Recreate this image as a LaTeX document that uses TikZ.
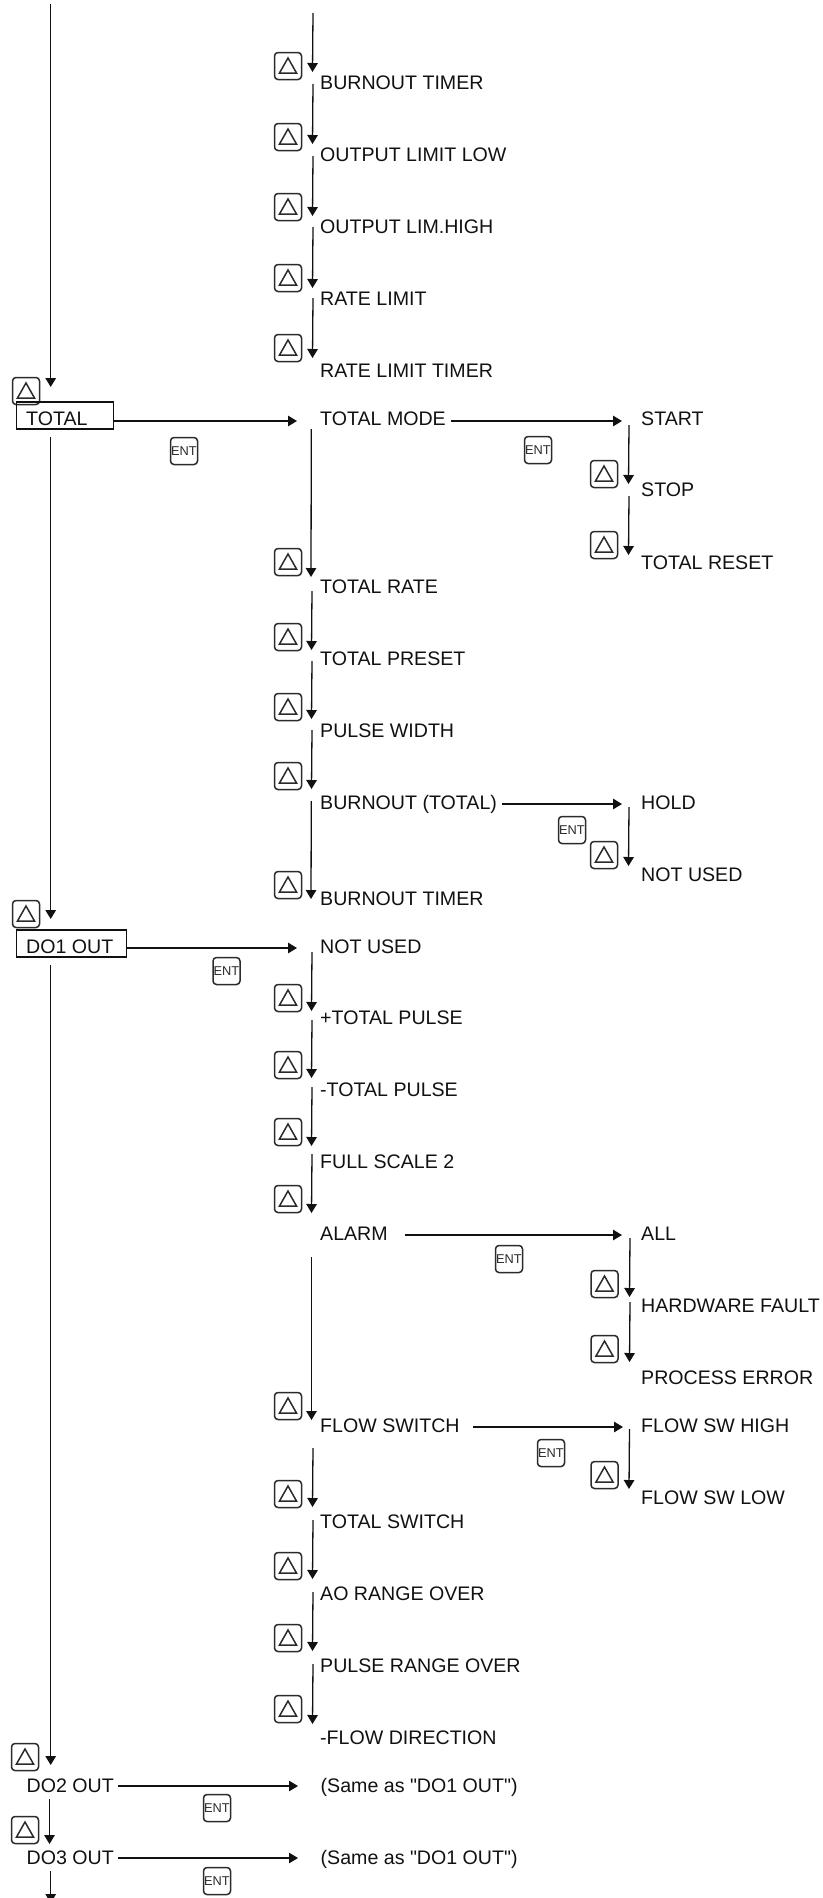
\documentclass[tikz,border=0pt]{standalone}
\usepackage{fontspec}
\setmainfont{Liberation Sans}[Ligatures=TeXOff]
\usetikzlibrary{arrows.meta}
\definecolor{ink}{HTML}{111111}
\definecolor{btn}{HTML}{2B2B2B}
\tikzset{
  x=1pt,y=-1pt,
  flowline/.style={draw=ink,line width=1.3pt,-{Triangle[length=9pt,width=10.5pt]}},
  itemtext/.style={anchor=base west,inner sep=0pt,text=ink,font=\fontsize{19.6}{23}\selectfont},
  upbtn/.style={draw=btn,line width=1.5pt,rounded corners=3.5pt,minimum width=27pt,minimum height=27pt,inner sep=0pt,
    path picture={\draw[btn,line width=1.5pt,sharp corners,line join=miter] ([shift={(-8.5pt,-7pt)}]path picture bounding box.center) -- ([shift={(8.5pt,-7pt)}]path picture bounding box.center) -- ([shift={(0pt,8pt)}]path picture bounding box.center) -- cycle;}},
  entbtn/.style={draw=btn,line width=1.5pt,rounded corners=3.5pt,minimum width=27pt,minimum height=27pt,inner sep=0pt,text=btn,font=\fontsize{12.8}{14}\selectfont},
  menubox/.style={draw=ink,line width=1.1pt,minimum height=27pt,inner sep=0pt,anchor=west},
}
% item: name, x, y of capital-letter centre, text
\newcommand{\itm}[4]{\node[itemtext] (#1) at (#2,#3+7) {#4};}
% up-key: name, x, y
\newcommand{\upk}[3]{\node[upbtn] (#1) at (#2,#3) {};}
% enter-key: name, x, y
\newcommand{\entk}[3]{\node[entbtn] (#1) at (#2,#3) {ENT};}
% connector between two named coordinates: name, x1, y1, x2, y2
\newcommand{\flow}[5]{\coordinate (#1s) at (#2,#3); \coordinate (#1e) at (#4,#5); \draw[flowline] (#1s) -- (#1e);}
\begin{document}
\begin{tikzpicture}
\useasboundingbox (0,0) rectangle (822,1898);
\clip (0,0) rectangle (822,1898);
% ---- left column
\flow{L1}{50.7}{4}{50.7}{387}
\upk{uL1}{26}{391}
\node[menubox,minimum width=97pt] (boxT) at (16,415.5) {};
\itm{tTotal}{26}{418}{TOTAL}
\flow{HT}{113}{421}{297}{421}
\entk{eT}{184}{451}
\flow{L2}{50.7}{437}{50.7}{919}
\upk{uL2}{26}{914}
\node[menubox,minimum width=109.5pt] (boxD) at (16,943.5) {};
\itm{tDO1}{26}{946}{DO1 OUT}
\flow{HD}{125.5}{948}{297}{948}
\entk{eD}{226.5}{971}
\flow{L3}{50.7}{965}{50.7}{1765}
\upk{uL3}{25}{1757}
\itm{tDO2}{26.5}{1785}{DO2 OUT}
\flow{HD2}{118}{1786}{298}{1786}
\itm{tS2}{320.5}{1785}{(Same as "DO1 OUT")}
\entk{eD2}{217}{1808}
\flow{L4}{49.5}{1799}{49.5}{1844}
\upk{uL4}{25}{1830}
\itm{tDO3}{26.5}{1857}{DO3 OUT}
\flow{HD3}{118}{1858}{298}{1858}
\itm{tS3}{320.5}{1857}{(Same as "DO1 OUT")}
\entk{eD3}{217}{1881}
\flow{L5}{50.7}{1871}{50.7}{1903}
% ---- middle column, upper
\flow{M1}{313}{13}{312.5}{72}   \upk{uM1}{288}{66}
\itm{m1}{320}{82}{BURNOUT TIMER}
\flow{M2}{313}{84}{312.5}{144}  \upk{uM2}{288}{137}
\itm{m2}{320}{154}{OUTPUT LIMIT LOW}
\flow{M3}{313}{156}{312.5}{216} \upk{uM3}{288}{207}
\itm{m3}{320}{226}{OUTPUT LIM.HIGH}
\flow{M4}{313}{227}{312.5}{288} \upk{uM4}{288}{278}
\itm{m4}{320}{298}{RATE LIMIT}
\flow{M5}{313}{298}{312.5}{358} \upk{uM5}{288}{348}
\itm{m5}{320}{370}{RATE LIMIT TIMER}
% ---- TOTAL branch
\itm{m6}{320}{418}{TOTAL MODE}
\flow{M6}{311.3}{429}{311}{577} \upk{uM6}{288}{562}
\itm{m7}{320}{586}{TOTAL RATE}
\flow{M7}{312}{591}{311.5}{650} \upk{uM7}{288}{637}
\itm{m8}{320}{658}{TOTAL PRESET}
\flow{M8}{312}{661}{311.5}{719} \upk{uM8}{288}{707}
\itm{m9}{320}{730}{PULSE WIDTH}
\flow{M9}{312}{730}{311.5}{789} \upk{uM9}{288}{776}
\itm{m10}{320}{802}{BURNOUT (TOTAL)}
\flow{M10}{311.3}{801}{311}{899} \upk{uM10}{288}{885}
\itm{m11}{320}{898}{BURNOUT TIMER}
% ---- TOTAL MODE sub-branch
\flow{HM}{451}{421}{622}{421}
\entk{eM}{538}{450}
\itm{r1}{641}{418}{START}
\flow{R1}{629}{425}{628.5}{484} \upk{uR1}{604}{474}
\itm{r2}{641}{489.5}{STOP}
\flow{R2}{629}{496}{628.5}{555} \upk{uR2}{604}{545}
\itm{r3}{641}{562}{TOTAL RESET}
% ---- BURNOUT sub-branch
\flow{HB}{502}{804}{622}{804}
\entk{eB}{572}{830}
\itm{r4}{641}{802}{HOLD}
\flow{R3}{629}{807}{628.5}{866} \upk{uR3}{604}{855}
\itm{r5}{641}{874}{NOT USED}
% ---- DO1 branch
\itm{n1}{320}{946}{NOT USED}
\flow{N1}{312}{952}{311.5}{1011} \upk{uN1}{288}{998}
\itm{n2}{320}{1017}{+TOTAL PULSE}
\flow{N2}{312}{1020}{311.5}{1078} \upk{uN2}{288}{1065}
\itm{n3}{320}{1089}{-TOTAL PULSE}
\flow{N3}{312}{1087}{311.5}{1146} \upk{uN3}{288}{1132}
\itm{n4}{320}{1161}{FULL SCALE 2}
\flow{N4}{312}{1154}{311.5}{1213} \upk{uN4}{288}{1199}
\itm{n5}{320}{1233}{ALARM}
\flow{N5}{311.5}{1257}{311.5}{1420} \upk{uN5}{288}{1406}
\itm{n6}{320}{1425}{FLOW SWITCH}
\flow{N6}{313}{1448}{312.5}{1507} \upk{uN6}{288}{1494}
\itm{n7}{320}{1521}{TOTAL SWITCH}
\flow{N7}{313}{1520}{312.5}{1579} \upk{uN7}{288}{1566}
\itm{n8}{320}{1593}{AO RANGE OVER}
\flow{N8}{313}{1592}{312.5}{1651} \upk{uN8}{288}{1638}
\itm{n9}{320}{1665}{PULSE RANGE OVER}
\flow{N9}{313}{1664}{312.5}{1724} \upk{uN9}{288}{1709}
\itm{n10}{320}{1737}{-FLOW DIRECTION}
% ---- ALARM sub-branch
\flow{HA}{405}{1235}{622}{1235}
\entk{eA}{509}{1259}
\itm{a1}{641}{1233}{ALL}
\flow{A1}{630}{1238}{629.5}{1297} \upk{uA1}{604.5}{1284}
\itm{a2}{641}{1305}{HARDWARE FAULT}
\flow{A2}{630}{1302}{629.5}{1362} \upk{uA2}{604.5}{1349}
\itm{a3}{641}{1377}{PROCESS ERROR}
% ---- FLOW SWITCH sub-branch
\flow{HF}{473}{1427}{623}{1427}
\entk{eF}{551}{1453}
\itm{f1}{641}{1425}{FLOW SW HIGH}
\flow{F1}{629.5}{1429}{629}{1489} \upk{uF1}{604.5}{1475}
\itm{f2}{641}{1497}{FLOW SW LOW}
\end{tikzpicture}
\end{document}
